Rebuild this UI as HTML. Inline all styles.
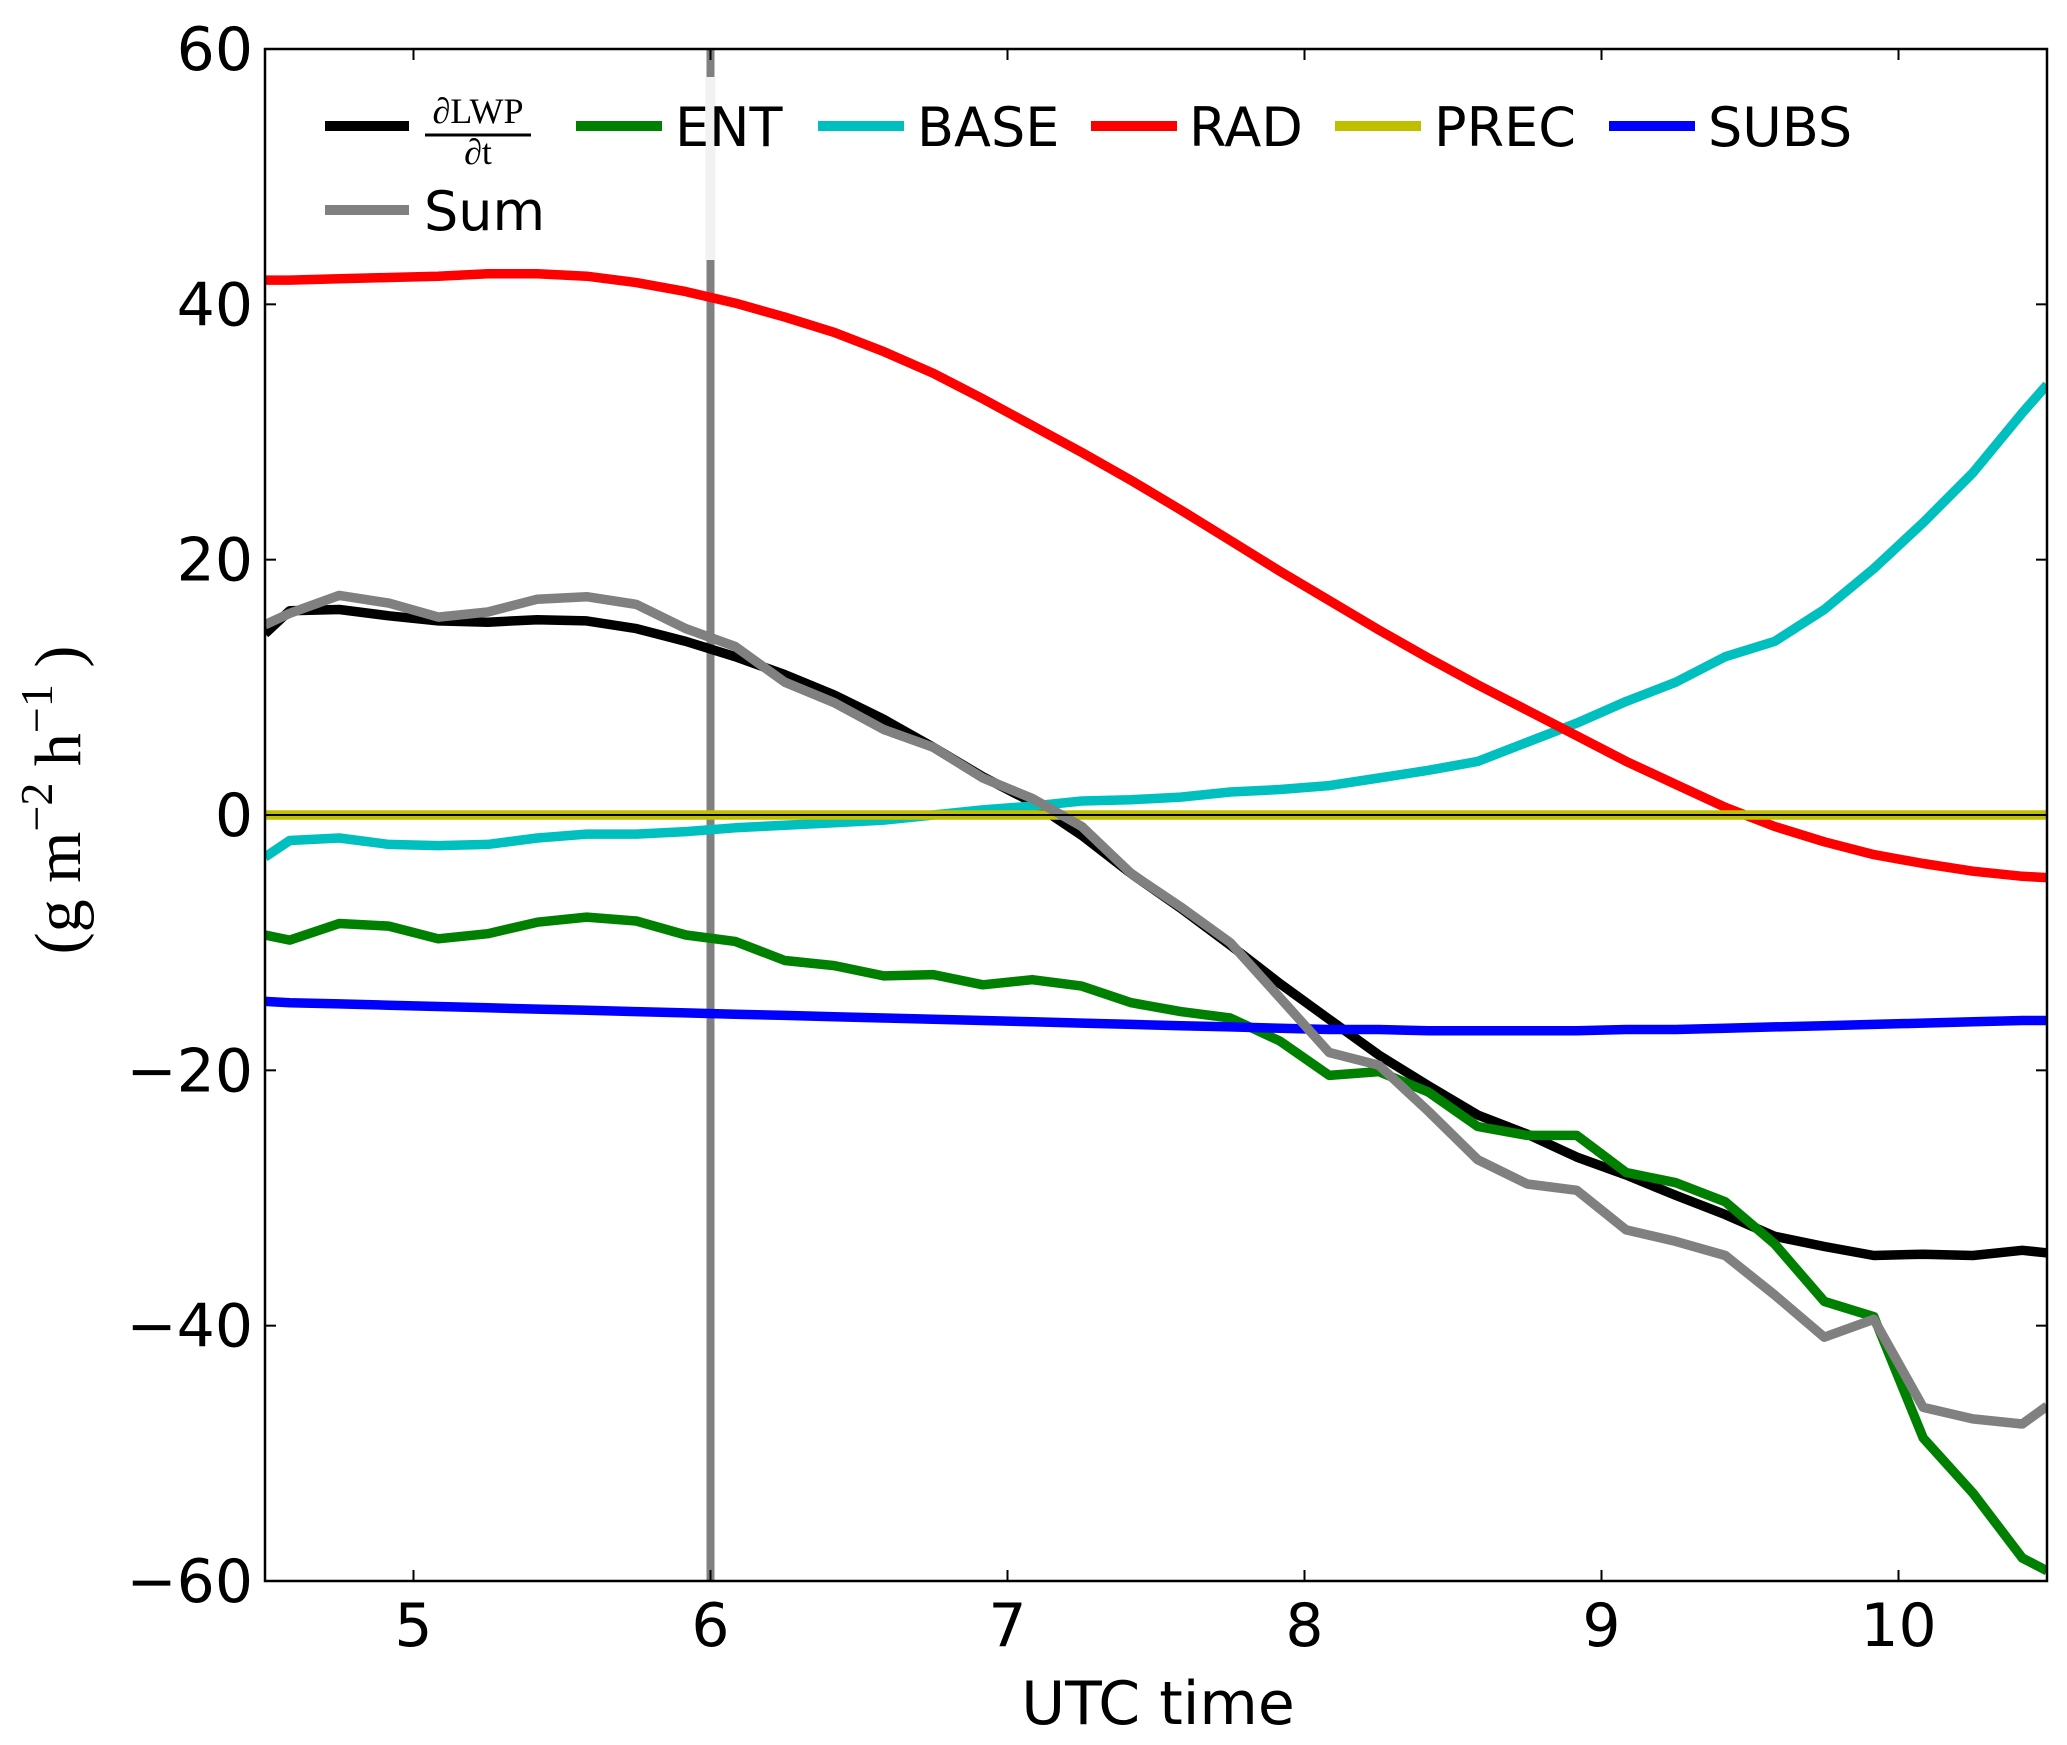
<!DOCTYPE html>
<html><head><meta charset="utf-8"><style>
html,body{margin:0;padding:0;background:#fff;}
svg{display:block;}
text{font-family:"DejaVu Sans","Liberation Sans",sans-serif;}
.serif{font-family:"Liberation Serif","DejaVu Serif",serif;}
</style></head><body>
<svg id="chart" width="2067" height="1745" viewBox="0 0 2067 1745" xmlns="http://www.w3.org/2000/svg">
<rect x="0" y="0" width="2067" height="1745" fill="#fff"/>
<g id="plot"></g>
<g id="axes"></g>
<g id="legend"></g>
<text x="1158" y="1724" font-size="60" text-anchor="middle">UTC time</text>
<g transform="translate(80,800) rotate(-90)">
<text class="serif" x="0" y="0" font-size="66" text-anchor="middle">(g m<tspan dy="-28" font-size="46">−2</tspan><tspan dy="28"> h</tspan><tspan dy="-28" font-size="46">−1</tspan><tspan dy="28"> )</tspan></text>
</g>
</svg>
<script>
const times=[4.5,4.583,4.75,4.917,5.083,5.25,5.417,5.583,5.75,5.917,6.083,6.25,6.417,6.583,6.75,6.917,7.083,7.25,7.417,7.583,7.75,7.917,8.083,8.25,8.417,8.583,8.75,8.917,9.083,9.25,9.417,9.583,9.75,9.917,10.083,10.25,10.417,10.5];
const dlwp=[14.2,16,16.1,15.6,15.2,15.1,15.3,15.2,14.6,13.6,12.4,11,9.4,7.5,5.3,3,1,-1.6,-4.6,-7.3,-10.2,-13.2,-16,-18.8,-21.2,-23.5,-25,-26.8,-28.2,-29.8,-31.3,-33,-33.8,-34.5,-34.4,-34.5,-34.1,-34.3];
const sumv=[14.9,15.8,17.2,16.6,15.5,15.9,16.9,17.1,16.5,14.6,13.2,10.4,8.8,6.7,5.3,2.9,1.3,-0.9,-4.6,-7.2,-10,-14.3,-18.6,-19.6,-23.2,-27,-28.9,-29.4,-32.5,-33.4,-34.5,-37.6,-40.9,-39.5,-46.4,-47.3,-47.7,-46.3];
const ent=[-9.4,-9.8,-8.5,-8.7,-9.7,-9.3,-8.4,-8,-8.3,-9.4,-9.9,-11.4,-11.8,-12.6,-12.5,-13.3,-12.9,-13.4,-14.7,-15.4,-15.9,-17.7,-20.4,-20.1,-21.7,-24.4,-25.1,-25.1,-28,-28.8,-30.3,-33.6,-38.1,-39.3,-48.8,-53.1,-58.2,-59.2];
const base=[-3.3,-2,-1.8,-2.3,-2.4,-2.3,-1.8,-1.5,-1.5,-1.3,-1,-0.8,-0.6,-0.4,0,0.4,0.7,1.1,1.2,1.4,1.8,2,2.3,2.9,3.5,4.2,5.7,7.2,8.9,10.4,12.4,13.6,16.1,19.3,22.9,26.8,31.5,33.7];
const rad=[41.9,41.9,42,42.1,42.2,42.4,42.4,42.2,41.7,41,40.1,39,37.8,36.3,34.6,32.6,30.5,28.4,26.2,23.9,21.5,19.1,16.8,14.5,12.3,10.2,8.2,6.2,4.2,2.4,0.6,-0.9,-2.1,-3.1,-3.8,-4.4,-4.8,-4.9];
const prec=[0,0,0,0,0,0,0,0,0,0,0,0,0,0,0,0,0,0,0,0,0,0,0,0,0,0,0,0,0,0,0,0,0,0,0,0,0,0];
const subs=[-14.6,-14.7,-14.8,-14.9,-15,-15.1,-15.2,-15.3,-15.4,-15.5,-15.6,-15.7,-15.8,-15.9,-16,-16.1,-16.2,-16.3,-16.4,-16.5,-16.6,-16.7,-16.8,-16.8,-16.9,-16.9,-16.9,-16.9,-16.8,-16.8,-16.7,-16.6,-16.5,-16.4,-16.3,-16.2,-16.1,-16.1];
const xTicks=[5,6,7,8,9,10];
const xTickLabels=["5","6","7","8","9","10"];
const yTicks=[-60,-40,-20,0,20,40,60];
const yTickLabels=["−60","−40","−20","0","20","40","60"];
const markerTime=6;

const L=265,R=2047,T=49,B=1581,xmin=4.5,xmax=10.5,ymin=-60,ymax=60;
const sx=v=>L+(v-xmin)/(xmax-xmin)*(R-L);
const sy=v=>B-(v-ymin)/(ymax-ymin)*(B-T);
const NS="http://www.w3.org/2000/svg";
function mk(tag,attrs,parent){const e=document.createElementNS(NS,tag);for(const k in attrs)e.setAttribute(k,attrs[k]);parent.appendChild(e);return e;}
const plot=document.getElementById('plot'),axes=document.getElementById('axes'),legend=document.getElementById('legend');

const clip=mk('clipPath',{id:'pc'},plot);
mk('rect',{x:L,y:T,width:R-L,height:B-T},clip);
const g=mk('g',{'clip-path':'url(#pc)'},plot);

const vx=sx(markerTime);
let vl=mk('line',{x1:vx,x2:vx,y1:T,y2:B,stroke:'#808080','stroke-width':8},g);



function series(vals,color,name,w){
  const d=vals.map((v,i)=>(i?'L':'M')+sx(times[i]).toFixed(1)+','+sy(v).toFixed(1)).join(' ');
  const p=mk('path',{d:d,fill:'none',stroke:color,'stroke-width':w,'stroke-linejoin':'round'},g);
  
  
}
series(dlwp,'#000000','series-dlwp-dt',9.5);
series(ent,'#008000','series-ent',9.5);
series(base,'#00bfbf','series-base',9.5);
series(rad,'#ff0000','series-rad',9.5);
series(prec,'#bfbf00','series-prec',9.5);
series(subs,'#0000ff','series-subs',9.5);
series(sumv,'#808080','series-sum',9.5);
let zl=mk('line',{x1:L,x2:R,y1:sy(0),y2:sy(0),stroke:'#000','stroke-width':2},g);



let lb=mk('rect',{x:vx-5,y:77,width:10,height:183,fill:'#f2f2f2'},legend);


const items=[
 {seg:[325,409],y:126,tx:null,label:'',c:'#000',n:'legend-entry-dlwp'},
 {seg:[576,662],y:126,tx:675,label:'ENT',c:'#008000',n:'legend-entry-ent'},
 {seg:[818,904],y:126,tx:917,label:'BASE',c:'#00bfbf',n:'legend-entry-base'},
 {seg:[1091,1177],y:126,tx:1189,label:'RAD',c:'#ff0000',n:'legend-entry-rad'},
 {seg:[1335,1421],y:126,tx:1434,label:'PREC',c:'#bfbf00',n:'legend-entry-prec'},
 {seg:[1609,1695],y:126,tx:1708,label:'SUBS',c:'#0000ff',n:'legend-entry-subs'},
 {seg:[325,409],y:210,tx:424,label:'Sum',c:'#808080',n:'legend-entry-sum'}];
items.forEach(it=>{
  const gi=mk('g',{},legend);
  
  
  mk('line',{x1:it.seg[0],x2:it.seg[1],y1:it.y,y2:it.y,stroke:it.c,'stroke-width':10},gi);
  if(it.tx!==null){const t=mk('text',{x:it.tx,y:it.y+20,'font-size':54},gi);t.textContent=it.label;}
});
const fr=mk('g',{},legend);


let t1=mk('text',{x:478,y:123,'font-size':36,'text-anchor':'middle',class:'serif'},fr);t1.textContent='∂LWP';
mk('line',{x1:425,x2:531,y1:135,y2:135,stroke:'#000','stroke-width':3},fr);
let t2=mk('text',{x:478,y:164,'font-size':36,'text-anchor':'middle',class:'serif'},fr);t2.textContent='∂t';

let fm=mk('rect',{x:L,y:T,width:R-L,height:B-T,fill:'none',stroke:'#000','stroke-width':2.5},axes);


xTicks.forEach((v,i)=>{
  const x=sx(v);
  mk('line',{x1:x,x2:x,y1:B,y2:B-11,stroke:'#000','stroke-width':2},axes);
  mk('line',{x1:x,x2:x,y1:T,y2:T+11,stroke:'#000','stroke-width':2},axes);
  const t=mk('text',{x:x,y:1646,'font-size':60,'text-anchor':'middle'},axes);
  
  
  t.textContent=xTickLabels[i];
});
yTicks.forEach((v,i)=>{
  const y=sy(v);
  mk('line',{x1:L,x2:L+11,y1:y,y2:y,stroke:'#000','stroke-width':2},axes);
  mk('line',{x1:R,x2:R-11,y1:y,y2:y,stroke:'#000','stroke-width':2},axes);
  const t=mk('text',{x:253,y:y+21,'font-size':60,'text-anchor':'end'},axes);
  
  
  t.textContent=yTickLabels[i];
});
</script>
</body></html>
